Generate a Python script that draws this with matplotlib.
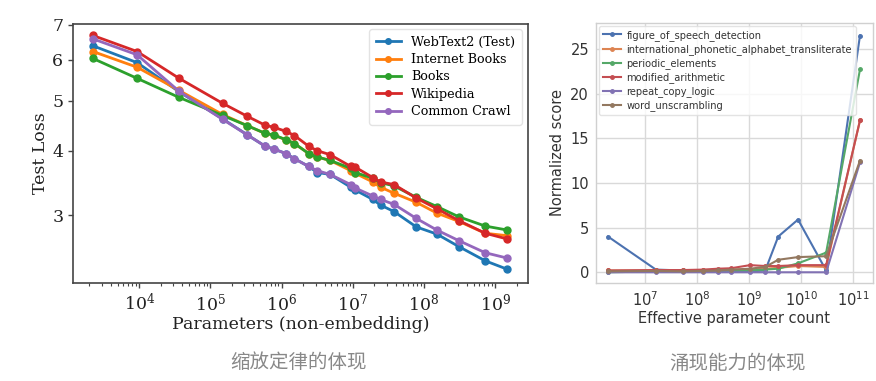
import numpy as np
import matplotlib
matplotlib.use("Agg")
import matplotlib.pyplot as plt
from matplotlib.ticker import LogLocator, NullFormatter, FixedLocator, FixedFormatter, NullLocator

# ---------------- Left chart data (scaling laws) ----------------
left_params_log10 = [3.35, 3.97, 4.56, 5.17, 5.52, 5.77, 5.89, 6.06, 6.18, 6.38, 6.50,
                     6.68, 6.97, 7.03, 7.28, 7.39, 7.58, 7.89, 8.18, 8.49, 8.86, 9.17]
webtext2 = [6.38, 5.92, 5.20, 4.61, 4.29, 4.08, 4.03, 3.95, 3.86, 3.73, 3.63,
            3.60, 3.40, 3.36, 3.22, 3.14, 3.05, 2.85, 2.76, 2.61, 2.45, 2.36]
internet_books = [6.22, 5.80, 5.23, 4.70, 4.47, 4.32, 4.29, 4.20, 4.13, 3.95, 3.89,
                  3.83, 3.66, 3.62, 3.48, 3.40, 3.31, 3.18, 3.03, 2.92, 2.77, 2.74]
books = [6.03, 5.52, 5.07, 4.68, 4.47, 4.32, 4.29, 4.20, 4.13, 3.95, 3.89,
         3.83, 3.70, 3.63, 3.54, 3.47, 3.42, 3.25, 3.12, 2.98, 2.86, 2.81]
wikipedia = [6.68, 6.22, 5.52, 4.94, 4.66, 4.48, 4.44, 4.36, 4.28, 4.08, 4.00,
             3.93, 3.73, 3.72, 3.55, 3.48, 3.44, 3.24, 3.09, 2.93, 2.77, 2.70]
common_crawl = [6.58, 6.13, 5.21, 4.60, 4.29, 4.08, 4.03, 3.95, 3.86, 3.73, 3.66,
                3.60, 3.44, 3.39, 3.27, 3.22, 3.15, 2.96, 2.81, 2.68, 2.54, 2.48]
left_series_names = ["WebText2 (Test)", "Internet Books", "Books", "Wikipedia", "Common Crawl"]
left_y_ticks = [3, 4, 5, 6, 7]

# ---------------- Right chart data (emergent abilities) ----------------
right_params_log10 = [6.29, 7.21, 7.73, 8.12, 8.40, 8.65, 9.02, 9.31, 9.56, 9.94, 10.48, 11.13]
figure_of_speech_detection = [4.0, 0.3, 0.2, 0.1, 0.1, 0.1, 0.1, 0.2, 4.0, 5.9, 0.2, 26.5]
international_phonetic_alphabet_transliterate = [0.2, 0.2, 0.2, 0.2, 0.3, 0.3, 0.3, 0.4, 0.5, 0.7, 0.6, 17.0]
periodic_elements = [0.0, 0.1, 0.1, 0.1, 0.1, 0.2, 0.2, 0.3, 0.4, 1.0, 2.2, 22.7]
modified_arithmetic = [0.2, 0.25, 0.25, 0.3, 0.4, 0.45, 0.8, 0.7, 0.7, 0.8, 0.8, 17.0]
repeat_copy_logic = [0.0, 0.0, 0.0, 0.0, 0.0, 0.0, 0.0, 0.0, 0.0, 0.0, 0.0, 12.3]
word_unscrambling = [0.1, 0.15, 0.1, 0.15, 0.2, 0.3, 0.4, 0.6, 1.4, 1.7, 1.8, 12.5]
right_series_names = ["figure_of_speech_detection", "international_phonetic_alphabet_transliterate",
                      "periodic_elements", "modified_arithmetic", "repeat_copy_logic", "word_unscrambling"]

captions = ["缩放定律的体现", "涌现能力的体现"]

W, H = 876, 381
fig = plt.figure(figsize=(W / 100, H / 100), dpi=100)
fig.patch.set_facecolor("white")


def px_axes(x0, y0, x1, y1):
    return fig.add_axes([x0 / W, 1 - y1 / H, (x1 - x0) / W, (y1 - y0) / H])


# ---------------- Left axes ----------------
axL = px_axes(73, 24, 528, 283)
left_colors = ["#1f77b4", "#ff7f0e", "#2ca02c", "#d62728", "#9467bd"]
xs = 10 ** np.array(left_params_log10)
for vals, name, c in zip([webtext2, internet_books, books, wikipedia, common_crawl],
                         left_series_names, left_colors):
    axL.plot(xs, vals, "-o", color=c, lw=2, ms=5, label=name)
axL.set_xscale("log")
axL.set_yscale("log")
axL.set_xlim(10 ** 3.07, 10 ** 9.46)
axL.set_ylim(2.22, 7.03)
axL.yaxis.set_major_locator(FixedLocator(left_y_ticks))
axL.yaxis.set_major_formatter(FixedFormatter([str(v) for v in left_y_ticks]))
axL.yaxis.set_minor_locator(NullLocator())
axL.xaxis.set_major_locator(FixedLocator([1e4, 1e5, 1e6, 1e7, 1e8, 1e9]))
axL.xaxis.set_minor_locator(LogLocator(base=10, subs=np.arange(2, 10)))
axL.xaxis.set_minor_formatter(NullFormatter())
serif = "DejaVu Serif"
for lab in axL.get_xticklabels() + axL.get_yticklabels():
    lab.set_fontfamily(serif)
axL.tick_params(axis="both", which="major", labelsize=12.5, color="#444", length=3.5, width=1, labelcolor="#222")
axL.tick_params(axis="x", which="minor", length=2, width=0.8, color="#444")
for s in axL.spines.values():
    s.set_color("#444")
    s.set_linewidth(1.2)
axL.set_xlabel("Parameters (non-embedding)", fontsize=12.5, family=serif, color="#222", labelpad=1)
axL.set_ylabel("Test Loss", fontsize=12.5, family=serif, color="#222", labelpad=2)
legL = axL.legend(loc="upper right", prop={"family": serif, "size": 9.2}, frameon=True,
                  borderpad=0.5, labelspacing=0.35, handlelength=2.0, fancybox=True,
                  borderaxespad=0.3, bbox_to_anchor=(0.995, 0.995))
legL.get_frame().set_edgecolor("#ddd")
for h in legL.legend_handles:
    h.set_markersize(4)

# ---------------- Right axes ----------------
axR = px_axes(596, 23, 873, 283)
right_colors = ["#4C72B0", "#DD8452", "#55A868", "#C44E52", "#8172B3", "#937860"]
xr = 10 ** np.array(right_params_log10)
for vals, name, c in zip([figure_of_speech_detection, international_phonetic_alphabet_transliterate,
                          periodic_elements, modified_arithmetic, repeat_copy_logic, word_unscrambling],
                         right_series_names, right_colors):
    axR.plot(xr, vals, "-o", color=c, lw=1.5, ms=2.5, label=name)
axR.set_xscale("log")
axR.set_xlim(10 ** 6.06, 10 ** 11.38)
axR.set_ylim(-1.2, 27.9)
axR.xaxis.set_major_locator(FixedLocator([1e7, 1e8, 1e9, 1e10, 1e11]))
axR.xaxis.set_minor_locator(NullLocator())
axR.set_yticks([0, 5, 10, 15, 20, 25])
axR.grid(True, color="#d9d9d9", lw=1)
axR.set_axisbelow(True)
for s in axR.spines.values():
    s.set_color("#d0d0d0")
    s.set_linewidth(1)
axR.tick_params(axis="both", which="both", length=0, labelsize=10.5, labelcolor="#333", pad=5)
axR.set_xlabel("Effective parameter count", fontsize=10.5, color="#333", labelpad=2)
axR.set_ylabel("Normalized score", fontsize=10.5, color="#333", labelpad=4)
legR = axR.legend(loc="upper left", fontsize=7.1, frameon=True, borderpad=0.4, labelspacing=0.32,
                  handlelength=1.8, handletextpad=0.6, fancybox=True, borderaxespad=0.3)
legR.get_frame().set_edgecolor("#ddd")
for t in legR.get_texts():
    t.set_color("#333")

# ---------------- Captions ----------------
fig.text(299 / W, 1 - 362 / H, captions[0], ha="center", va="center", fontsize=14,
         color="#888", family=["Noto Sans CJK SC", "DejaVu Sans"])
fig.text(738 / W, 1 - 363 / H, captions[1], ha="center", va="center", fontsize=14,
         color="#888", family=["Noto Sans CJK SC", "DejaVu Sans"])

fig.savefig("out.png", dpi=100)
